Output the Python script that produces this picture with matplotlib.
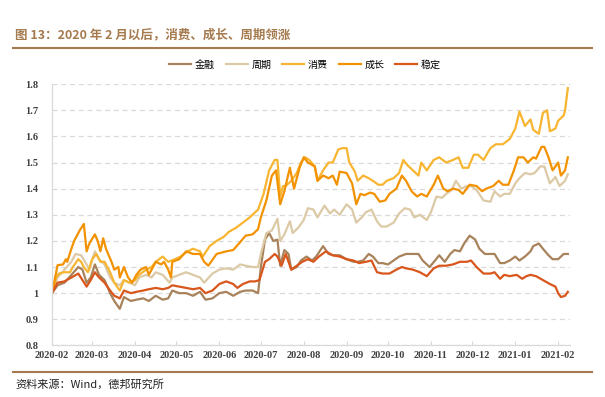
import matplotlib
matplotlib.use("Agg")
import matplotlib.pyplot as plt
import pandas as pd

plt.rcParams['font.family'] = ['Noto Sans CJK SC', 'DejaVu Sans']

START = pd.Timestamp("2020-02-03")

# Each series: day offsets from 2020-02-03 and index values
growth_day = [0, 4, 8, 10, 11, 14, 16, 20, 23, 25, 27, 31, 33, 35, 37, 39, 43, 45, 48, 49,
              52, 55, 58, 61, 64, 68, 70, 73, 75, 79, 81, 84, 86, 87, 92, 97, 102, 107, 110, 113,
              119, 126, 131, 136, 140, 145, 149, 151, 155, 159, 162, 165, 168, 172, 175, 179, 182, 185, 190, 192,
              196, 200, 203, 206, 208, 213, 217, 220, 223, 226, 230, 233, 237, 241, 244, 249, 253, 256, 260, 264,
              267, 271, 276, 279, 283, 286, 290, 294, 297, 302, 307, 311, 314, 319, 323, 326, 330, 334, 337, 341,
              344, 348, 350, 354, 356, 359, 362, 366, 368, 371, 373]
growth = [1.00, 1.107, 1.11, 1.13, 1.12, 1.17, 1.20, 1.24, 1.265, 1.16, 1.19, 1.225, 1.20, 1.16, 1.21, 1.17, 1.12, 1.09, 1.10, 1.06,
          1.10, 1.06, 1.04, 1.07, 1.09, 1.10, 1.07, 1.10, 1.12, 1.11, 1.12, 1.09, 1.06, 1.12, 1.13, 1.16, 1.15, 1.15, 1.12, 1.105,
          1.15, 1.16, 1.165, 1.195, 1.22, 1.225, 1.245, 1.29, 1.355, 1.45, 1.47, 1.34, 1.39, 1.48, 1.40, 1.48, 1.52, 1.50, 1.485, 1.43,
          1.45, 1.44, 1.45, 1.415, 1.465, 1.46, 1.42, 1.34, 1.38, 1.375, 1.385, 1.38, 1.35, 1.355, 1.38, 1.40, 1.45, 1.43, 1.39, 1.37,
          1.38, 1.37, 1.415, 1.45, 1.40, 1.39, 1.40, 1.395, 1.38, 1.415, 1.41, 1.39, 1.40, 1.41, 1.43, 1.415, 1.415, 1.47, 1.52, 1.52,
          1.50, 1.52, 1.515, 1.56, 1.56, 1.52, 1.47, 1.50, 1.45, 1.47, 1.52]

consumer_day = [0, 3, 5, 9, 13, 15, 19, 21, 23, 26, 29, 32, 35, 38, 42, 45, 49, 52, 56, 60,
                63, 68, 72, 75, 80, 84, 89, 93, 98, 102, 107, 109, 114, 119, 124, 128, 133, 138, 143, 145,
                149, 153, 157, 161, 163, 165, 167, 169, 173, 177, 180, 183, 186, 190, 192, 196, 200, 203, 207, 210,
                213, 215, 219, 221, 225, 229, 232, 236, 239, 242, 247, 251, 254, 257, 261, 265, 267, 271, 276, 280,
                285, 290, 294, 297, 301, 305, 308, 312, 317, 321, 326, 331, 335, 338, 342, 346, 348, 352, 355, 358,
                360, 364, 366, 370, 371, 373]
consumer = [1.00, 1.06, 1.075, 1.08, 1.08, 1.10, 1.13, 1.12, 1.10, 1.08, 1.13, 1.15, 1.12, 1.12, 1.08, 1.04, 1.01, 1.05, 1.04, 1.05,
            1.07, 1.09, 1.10, 1.12, 1.14, 1.12, 1.13, 1.14, 1.16, 1.17, 1.16, 1.14, 1.18, 1.20, 1.215, 1.235, 1.25, 1.27, 1.29, 1.30,
            1.32, 1.38, 1.47, 1.51, 1.51, 1.37, 1.41, 1.41, 1.43, 1.46, 1.50, 1.52, 1.51, 1.485, 1.43, 1.47, 1.50, 1.50, 1.55, 1.555,
            1.555, 1.50, 1.465, 1.43, 1.45, 1.44, 1.43, 1.415, 1.415, 1.43, 1.44, 1.46, 1.51, 1.49, 1.47, 1.45, 1.50, 1.47, 1.51, 1.52,
            1.50, 1.51, 1.52, 1.48, 1.48, 1.53, 1.53, 1.51, 1.555, 1.57, 1.57, 1.59, 1.63, 1.695, 1.64, 1.665, 1.625, 1.61, 1.69, 1.70,
            1.62, 1.63, 1.66, 1.68, 1.70, 1.785]

cyclical_day = [0, 4, 9, 14, 17, 21, 25, 27, 31, 34, 38, 42, 45, 49, 52, 56, 60, 63, 68, 72,
                75, 80, 85, 87, 92, 97, 102, 107, 110, 116, 121, 126, 131, 136, 140, 145, 149, 151, 155, 159,
                163, 165, 168, 172, 174, 178, 182, 185, 189, 192, 197, 201, 204, 208, 213, 217, 220, 224, 227, 231,
                235, 238, 242, 247, 251, 255, 259, 262, 266, 271, 274, 278, 282, 285, 289, 292, 296, 300, 303, 307,
                312, 317, 320, 324, 327, 331, 335, 338, 342, 346, 349, 353, 356, 360, 364, 367, 371, 373]
cyclical = [1.00, 1.06, 1.09, 1.12, 1.15, 1.145, 1.11, 1.09, 1.16, 1.13, 1.11, 1.06, 1.04, 1.03, 1.05, 1.04, 1.03, 1.06, 1.07, 1.06,
            1.08, 1.07, 1.04, 1.06, 1.07, 1.08, 1.07, 1.06, 1.04, 1.075, 1.09, 1.095, 1.09, 1.11, 1.105, 1.10, 1.10, 1.15, 1.23, 1.24,
            1.285, 1.20, 1.225, 1.275, 1.23, 1.25, 1.28, 1.325, 1.32, 1.29, 1.335, 1.305, 1.32, 1.30, 1.34, 1.32, 1.27, 1.29, 1.31, 1.32,
            1.275, 1.255, 1.255, 1.27, 1.305, 1.325, 1.32, 1.29, 1.30, 1.28, 1.31, 1.37, 1.365, 1.38, 1.395, 1.43, 1.40, 1.41, 1.41, 1.395,
            1.355, 1.35, 1.39, 1.37, 1.38, 1.38, 1.42, 1.44, 1.46, 1.455, 1.46, 1.485, 1.485, 1.42, 1.445, 1.41, 1.43, 1.455]

finance_day = [0, 4, 9, 14, 19, 22, 25, 28, 31, 34, 38, 42, 45, 49, 52, 57, 61, 66, 70, 75,
               80, 84, 87, 92, 97, 102, 107, 111, 116, 121, 126, 131, 136, 140, 145, 149, 151, 154, 157, 160,
               163, 165, 168, 171, 173, 177, 180, 184, 188, 191, 196, 200, 203, 208, 213, 218, 221, 225, 229, 232,
               236, 239, 243, 247, 251, 256, 261, 265, 268, 273, 277, 280, 284, 288, 291, 295, 298, 302, 306, 309,
               313, 317, 320, 324, 327, 331, 335, 338, 342, 346, 348, 352, 355, 359, 362, 366, 370, 373]
finance = [1.00, 1.03, 1.04, 1.07, 1.10, 1.09, 1.04, 1.06, 1.11, 1.07, 1.05, 1.00, 0.97, 0.94, 0.985, 0.97, 0.975, 0.98, 0.97, 0.99,
           0.975, 0.98, 1.01, 1.00, 1.00, 0.99, 1.005, 0.975, 0.98, 1.00, 1.005, 0.99, 1.005, 1.01, 1.01, 1.00, 1.10, 1.205, 1.23, 1.20,
           1.205, 1.105, 1.165, 1.15, 1.09, 1.10, 1.125, 1.14, 1.125, 1.14, 1.18, 1.15, 1.145, 1.145, 1.13, 1.12, 1.12, 1.125, 1.15, 1.14,
           1.115, 1.115, 1.11, 1.125, 1.14, 1.15, 1.15, 1.15, 1.125, 1.10, 1.125, 1.145, 1.12, 1.15, 1.165, 1.16, 1.19, 1.22, 1.205, 1.17,
           1.15, 1.15, 1.15, 1.115, 1.115, 1.125, 1.14, 1.125, 1.14, 1.16, 1.18, 1.19, 1.17, 1.145, 1.13, 1.13, 1.15, 1.15]

stable_day = [0, 4, 9, 14, 19, 22, 25, 28, 31, 34, 38, 42, 45, 49, 52, 57, 61, 66, 70, 75,
              80, 84, 87, 92, 97, 102, 107, 111, 116, 121, 126, 131, 134, 138, 143, 147, 150, 154, 157, 161,
              163, 166, 169, 173, 177, 181, 185, 189, 193, 198, 203, 208, 213, 218, 222, 227, 231, 235, 239, 244,
              249, 253, 256, 261, 266, 271, 276, 280, 285, 290, 295, 300, 303, 307, 312, 317, 320, 324, 327, 331,
              336, 340, 343, 346, 350, 355, 360, 364, 366, 368, 371, 373]
stable = [1.00, 1.04, 1.045, 1.06, 1.075, 1.05, 1.025, 1.05, 1.08, 1.06, 1.04, 1.01, 0.99, 0.98, 1.01, 1.00, 1.005, 1.01, 1.015, 1.02,
          1.015, 1.02, 1.03, 1.025, 1.02, 1.015, 1.02, 1.00, 1.01, 1.035, 1.045, 1.035, 1.02, 1.035, 1.045, 1.045, 1.05, 1.12, 1.13, 1.15,
          1.14, 1.105, 1.15, 1.09, 1.105, 1.12, 1.13, 1.12, 1.14, 1.16, 1.145, 1.14, 1.13, 1.125, 1.115, 1.12, 1.125, 1.08, 1.075, 1.075,
          1.09, 1.10, 1.095, 1.09, 1.08, 1.065, 1.095, 1.105, 1.105, 1.11, 1.12, 1.12, 1.125, 1.10, 1.075, 1.075, 1.08, 1.055, 1.07, 1.065,
          1.07, 1.055, 1.065, 1.07, 1.065, 1.05, 1.035, 1.025, 1.00, 0.985, 0.99, 1.005]

labels = ["金融", "周期", "消费", "成长", "稳定"]
colors = ["#A8825A", "#DCC9A6", "#F7B531", "#F39200", "#D9561C"]
series = [(finance_day, finance), (cyclical_day, cyclical), (consumer_day, consumer),
          (growth_day, growth), (stable_day, stable)]

yticks = [0.8, 0.9, 1.0, 1.1, 1.2, 1.3, 1.4, 1.5, 1.6, 1.7, 1.8]
ytick_labels = ["0.8", "0.9", "1", "1.1", "1.2", "1.3", "1.4", "1.5", "1.6", "1.7", "1.8"]

fig = plt.figure(figsize=(6.05, 3.97), dpi=100)
ax = fig.add_axes([0.086, 0.130, 0.856, 0.658])

for (days, vals), lab, c in zip(series, labels, colors):
    dates = START + pd.to_timedelta(days, unit="D")
    ax.plot(dates, vals, color=c, lw=1.6, label=lab, solid_joinstyle="round")

ax.set_ylim(0.8, 1.8)
ax.set_yticks(yticks)
ax.set_yticklabels(ytick_labels)
xticks = pd.date_range(START, periods=13, freq=pd.DateOffset(months=1))
ax.set_xticks(xticks)
ax.set_xticklabels([d.strftime("%Y-%m") for d in xticks])
ax.set_xlim(START, START + pd.Timedelta(days=374.5))

ax.grid(axis="y", color="#D9D9D9", linestyle=(0, (4, 3)), lw=0.9)
ax.set_axisbelow(True)
for s in ["top", "right"]:
    ax.spines[s].set_visible(False)
for s in ["left", "bottom"]:
    ax.spines[s].set_color("#D9D9D9")
    ax.spines[s].set_linewidth(0.9)
ax.tick_params(axis="y", length=0, pad=10)
ax.tick_params(axis="x", direction="in", length=3, color="#D9D9D9", pad=4)
for t in ax.get_xticklabels() + ax.get_yticklabels():
    t.set_family("Liberation Serif")
    t.set_fontsize(7.5)
    t.set_fontweight("bold")
    t.set_color("#404040")

fig.legend(loc="center", bbox_to_anchor=(305 / 605, 1 - 64.7 / 397), ncol=5, frameon=False,
           fontsize=7.2, handlelength=2.2, handletextpad=0.35, columnspacing=1.1)

title_color = "#A57A4E"
fig.text(15 / 605, 1 - 35 / 397, "图 13：2020 年 2 月以后，消费、成长、周期领涨", fontsize=9.0,
         fontweight="bold", color=title_color, va="center", ha="left")
fig.add_artist(plt.Line2D([13 / 605, 592 / 605], [1 - 48.3 / 397] * 2, color=title_color, lw=1.5))
fig.add_artist(plt.Line2D([13 / 605, 592 / 605], [1 - 372 / 397] * 2, color=title_color, lw=1.5))
fig.text(15 / 605, 1 - 384 / 397, "资料来源：Wind，德邦研究所", fontsize=8, color="#222222",
         va="center", ha="left")

fig.savefig("out.png", dpi=100)
